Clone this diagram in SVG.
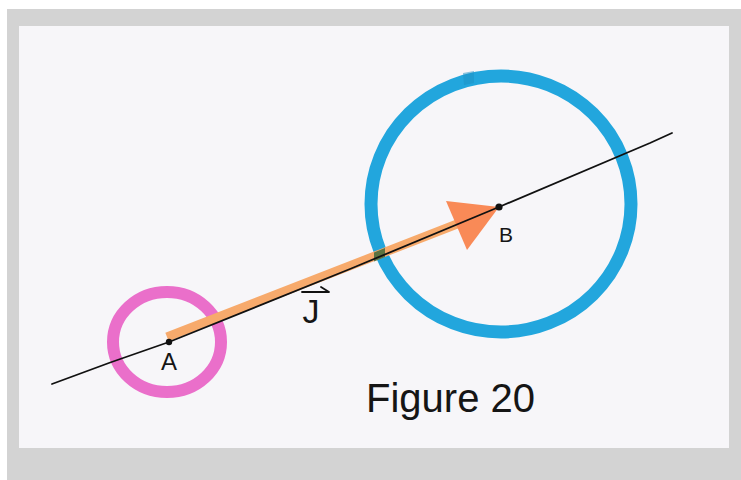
<svg xmlns="http://www.w3.org/2000/svg" width="741" height="480" viewBox="0 0 741 480">
  <style>
    .ink { fill: none; stroke: #111; stroke-width: 1.8; stroke-linecap: round; stroke-linejoin: round; }
    .lbl { font-family: "Liberation Sans", Arial, sans-serif; fill: #151515; }
    .marker-blue { fill: none; stroke: #22a6dd; stroke-width: 13; }
    .marker-pink { fill: none; stroke: #ea6fca; stroke-width: 12; }
  </style>
  <rect x="0" y="0" width="741" height="480" fill="#ffffff"/>
  <rect x="7" y="9" width="734" height="471" fill="#d3d3d3"/>
  <rect x="19" y="26" width="710" height="422" fill="#f7f6f9"/>

  <g id="circle-B">
    <ellipse class="marker-blue" cx="501" cy="204" rx="130" ry="128"/>
    <path d="M463,73 L474,71 L474,83 L464,85 Z" fill="#1b8fc4" opacity="0.5"/>
  </g>
  <g id="circle-A">
    <ellipse class="marker-pink" cx="167" cy="342" rx="54" ry="50"/>
  </g>

  <g id="connectors">
    <g id="vector-J">
      <path d="M167,337 L470,219" stroke="#f7aa6c" stroke-width="9" fill="none" stroke-linecap="butt"/>
      <path d="M374,252.4 L385,248.1 L385,257.1 L374,261.4 Z" fill="#3f6a3a" opacity="0.85"/>
      <path d="M499,207 L446,201 L467,250 Z" fill="#f98a57"/>
    </g>
    <path id="line-AB" class="ink" d="M52,384 Q110,362 169,342 L350,269 L499,207 L650,143 L672,133"/>
  </g>

  <g id="point-A">
    <circle cx="169" cy="342" r="3.2" fill="#111"/>
    <text class="lbl" x="169" y="370" font-size="24" text-anchor="middle">A</text>
  </g>
  <g id="point-B">
    <circle cx="499" cy="207" r="3.6" fill="#111"/>
    <text class="lbl" x="506" y="242" font-size="21" text-anchor="middle">B</text>
  </g>

  <g id="label-J">
    <path class="ink" d="M302,292 L329,292 M321,287 L329,292" stroke-width="1.8"/>
    <text class="lbl" x="311" y="323" font-size="34" text-anchor="middle">J</text>
  </g>

  <g id="caption">
    <text class="lbl" x="366" y="412" font-size="40">Figure 20</text>
  </g>
</svg>
